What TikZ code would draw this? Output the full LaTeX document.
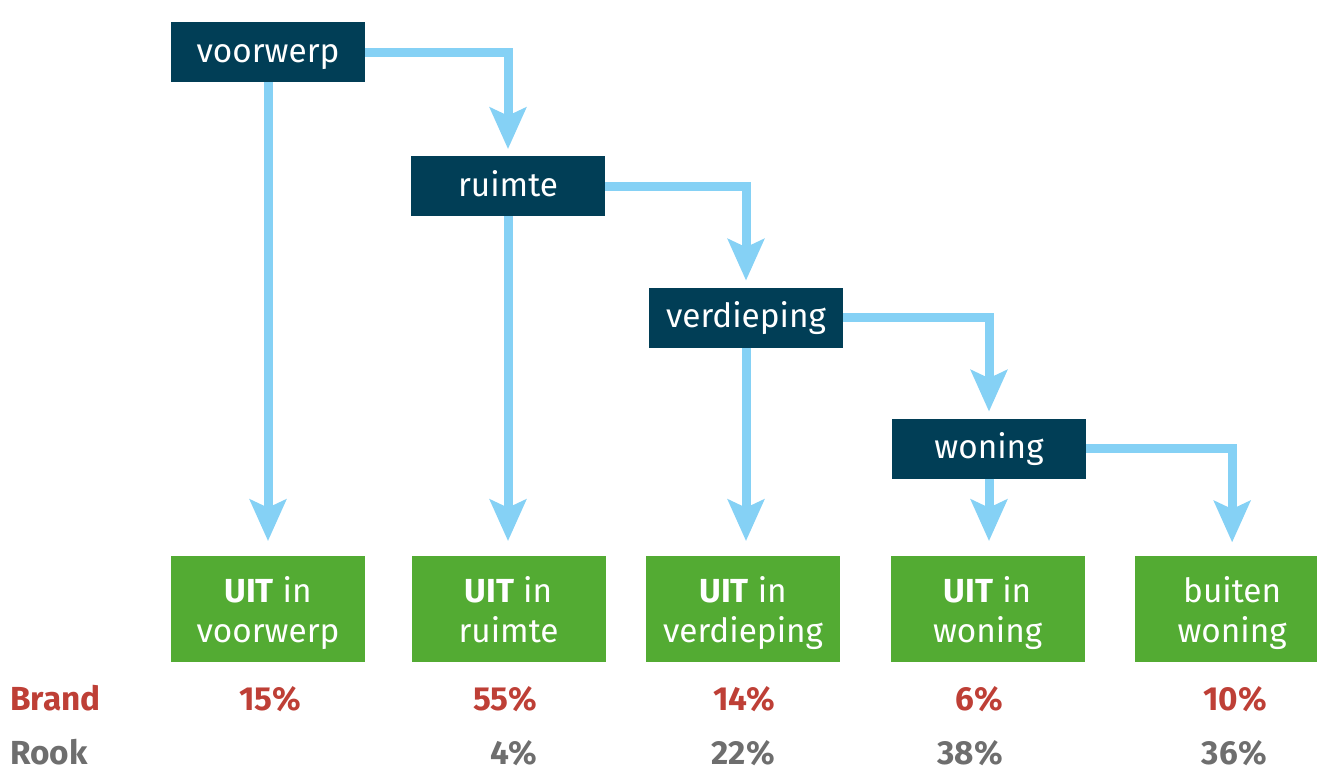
\documentclass[tikz,border=0pt]{standalone}
\usepackage{fontspec}
\setmainfont{Fira Sans}
\usepackage{xcolor}
\usepackage{tikz}
\usetikzlibrary{positioning,arrows.meta}
\definecolor{BoxNavy}{HTML}{013E56}
\definecolor{BoxGreen}{HTML}{53AB33}
\definecolor{FlowBlue}{HTML}{85D1F5}
\definecolor{BrandRed}{HTML}{BE3F36}
\definecolor{RookGrey}{HTML}{6E6E6E}

\begin{document}
\begin{tikzpicture}[x=0.75pt, y=-0.75pt,
                    every node/.style={font=\fontsize{25}{30}\selectfont, align=center},
                    stage/.style={fill=BoxNavy, text=white, minimum width=145.5pt,
                                  minimum height=45pt, text height=20pt, text depth=5pt},
                    outcome/.style={fill=BoxGreen, text=white, minimum width=145.5pt,
                                    minimum height=79.5pt, text height=49.5pt, text depth=0pt},
                    flow/.style={draw=FlowBlue, line width=6.75pt,
                                 -{Stealth[length=31pt, width=27pt, inset=6pt]}},
                    pct/.style={font=\fontsize{25}{30}\selectfont\bfseries, inner sep=0pt,
                                anchor=base east}]
\clip (0,0) rectangle (1317,769);
% stages of spread
\node[stage] (vw) at (268,52) {voorwerp};
\node[stage] (ru) at (508,186) {ruimte};
\node[stage] (ve) at (746,317.5) {verdieping};
\node[stage] (wo) at (989,448.5) {woning};
% where the fire ends
\node[outcome] (g1) at (268,609) {\textbf{UIT} in\\ voorwerp};
\node[outcome, right=34.5pt of g1] (g2) {\textbf{UIT} in\\ ruimte};
\node[outcome, right=30pt of g2] (g3) {\textbf{UIT} in\\ verdieping};
\node[outcome, right=37.5pt of g3] (g4) {\textbf{UIT} in\\ woning};
\node[outcome, right=37.5pt of g4] (g5) {buiten\\ woning};
% connectors
\draw[flow, shorten >=5pt] (vw.east) -| (ru.north);
\draw[flow, shorten >=5pt] (ru.east) -| (ve.north);
\draw[flow, shorten >=5pt] (ve.east) -| (wo.north);
\draw[flow, shorten >=10pt] (wo.east) -| (g5.north);
\draw[flow, shorten >=11pt] (vw.south) -- (vw.south |- g1.north);
\draw[flow, shorten >=11pt] (ru.south) -- (ru.south |- g2.north);
\draw[flow, shorten >=11pt] (ve.south) -- (ve.south |- g3.north);
\draw[flow, shorten >=11pt] (wo.south) -- (wo.south |- g4.north);
% percentages
\node[pct, anchor=base west, text=BrandRed] (brand) at (10,710) {Brand};
\node[pct, anchor=base west, text=RookGrey] (rook) at (10,764) {Rook};
\node[pct, text=BrandRed] (b1) at (301,710) {15\%};
\node[pct, text=BrandRed] (b2) at (537,710) {55\%};
\node[pct, text=BrandRed] (b3) at (775,710) {14\%};
\node[pct, text=BrandRed] (b4) at (1003,710) {6\%};
\node[pct, text=BrandRed] (b5) at (1267,710) {10\%};
\node[pct, text=RookGrey] (r2) at (537,764) {4\%};
\node[pct, text=RookGrey] (r3) at (775,764) {22\%};
\node[pct, text=RookGrey] (r4) at (1003,764) {38\%};
\node[pct, text=RookGrey] (r5) at (1267,764) {36\%};
\end{tikzpicture}
\end{document}
